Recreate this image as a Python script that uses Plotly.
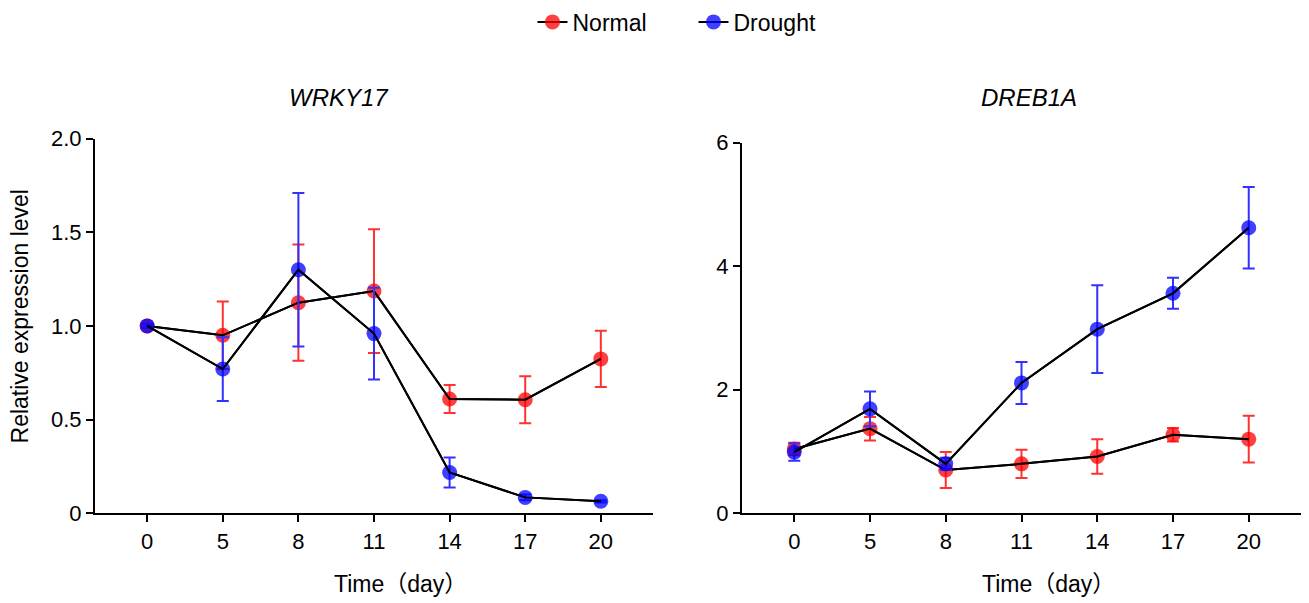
import plotly.graph_objects as go

days = ["0", "5", "8", "11", "14", "17", "20"]

wrky_normal = [1.00, 0.95, 1.124, 1.186, 0.61, 0.606, 0.824]
wrky_normal_err = [0.01, 0.18, 0.31, 0.33, 0.075, 0.125, 0.15]
wrky_drought = [1.00, 0.77, 1.30, 0.959, 0.218, 0.085, 0.064]
wrky_drought_err = [0.01, 0.17, 0.41, 0.245, 0.08, 0.015, 0.006]

dreb_normal = [1.04, 1.37, 0.70, 0.80, 0.92, 1.27, 1.20]
dreb_normal_err = [0.10, 0.19, 0.29, 0.23, 0.28, 0.11, 0.38]
dreb_drought = [0.99, 1.69, 0.80, 2.11, 2.98, 3.56, 4.62]
dreb_drought_err = [0.14, 0.28, 0.10, 0.34, 0.71, 0.25, 0.66]

FONT = "Arial, 'Liberation Sans', 'Noto Sans CJK SC', sans-serif"
RED_M = "rgba(255,0,0,0.75)"
BLUE_M = "rgba(0,0,255,0.75)"
RED_E = "rgb(255,50,50)"
BLUE_E = "rgb(50,50,255)"

x = list(range(len(days)))
fig = go.Figure()

def add(xa, ya, y, err, mcol, ecol, name, legend):
    fig.add_trace(go.Scatter(
        x=x, y=y, xaxis=xa, yaxis=ya, mode="lines+markers", name=name,
        showlegend=legend, legendgroup=name,
        line=dict(color="black", width=2),
        marker=dict(color=mcol, size=15),
        error_y=dict(type="data", array=err, visible=True, color=ecol,
                     thickness=2, width=6),
    ))
    fig.add_trace(go.Scatter(
        x=x, y=y, xaxis=xa, yaxis=ya, mode="lines", showlegend=False,
        legendgroup=name, line=dict(color="black", width=2), hoverinfo="skip",
    ))

add("x", "y", wrky_normal, wrky_normal_err, RED_M, RED_E, "Normal", True)
add("x", "y", wrky_drought, wrky_drought_err, BLUE_M, BLUE_E, "Drought", True)
add("x2", "y2", dreb_normal, dreb_normal_err, RED_M, RED_E, "Normal", False)
add("x2", "y2", dreb_drought, dreb_drought_err, BLUE_M, BLUE_E, "Drought", False)

W, H = 1309, 603
xcommon = dict(range=[-0.69, 6.69], tickvals=x, ticktext=days, showline=True,
               linecolor="black", linewidth=2, ticks="outside", ticklen=7,
               tickwidth=2, tickcolor="black", showgrid=False, zeroline=False,
               automargin=False, tickfont=dict(size=22, color="black"))
ycommon = dict(showline=True, linecolor="black", linewidth=2, ticks="outside",
               ticklen=7, tickwidth=2, tickcolor="black", showgrid=False,
               zeroline=False, automargin=False,
               tickfont=dict(size=22, color="black"))

ann = dict(xref="paper", yref="paper", showarrow=False,
           xanchor="center", yanchor="middle")

fig.update_layout(
    width=W, height=H,
    margin=dict(l=0, r=0, t=0, b=0),
    paper_bgcolor="white", plot_bgcolor="white",
    font=dict(family=FONT, color="black"),
    showlegend=True,
    legend=dict(orientation="h", x=0.5 + 39 / W, xanchor="center", y=(H - 20) / H,
                yanchor="middle", font=dict(size=23), entrywidth=116,
                bgcolor="rgba(0,0,0,0)"),
    xaxis=dict(domain=[95 / W, 653 / W], anchor="y", **xcommon),
    xaxis2=dict(domain=[742 / W, 1301 / W], anchor="y2", **xcommon),
    yaxis=dict(domain=[(H - 513) / H, (H - 137) / H], anchor="x", range=[0, 2.0],
               tickvals=[0, 0.5, 1.0, 1.5, 2.0],
               ticktext=["0", "0.5", "1.0", "1.5", "2.0"], **ycommon),
    yaxis2=dict(domain=[(H - 513) / H, (H - 141) / H], anchor="x2", range=[0, 6],
                tickvals=[0, 2, 4, 6], ticktext=["0", "2", "4", "6"], **ycommon),
    annotations=[
        dict(text="<i>WRKY17</i>", x=339 / W, y=(H - 96) / H, font=dict(size=24), **ann),
        dict(text="<i>DREB1A</i>", x=1029 / W, y=(H - 96) / H, font=dict(size=24), **ann),
        dict(text="Time（day）", x=400 / W, y=(H - 584) / H, font=dict(size=23), **ann),
        dict(text="Time（day）", x=1048 / W, y=(H - 584) / H, font=dict(size=23), **ann),
        dict(text="Relative expression level", x=20 / W, y=(H - 315.5) / H,
             textangle=-90, font=dict(size=23), **ann),
    ],
)

fig.write_html("out.html", post_script="document.body.style.margin='0';",
               config={"displayModeBar": False})
